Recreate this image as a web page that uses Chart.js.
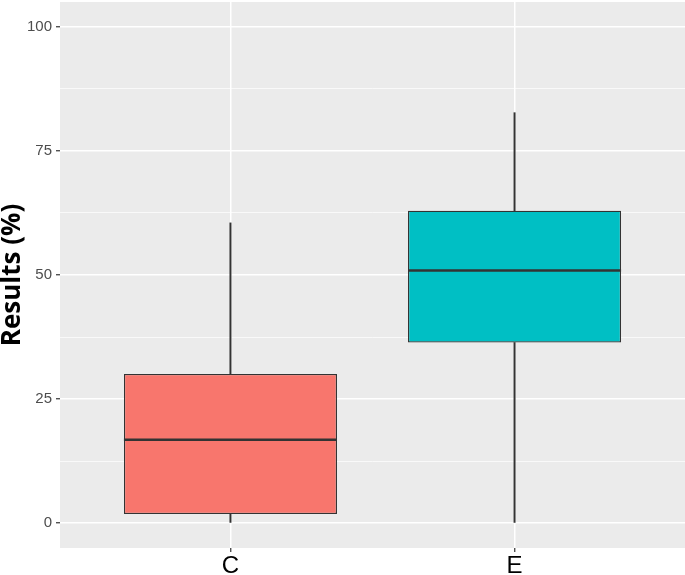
<!DOCTYPE html>
<html>
<head>
<meta charset="utf-8">
<script src="https://cdn.jsdelivr.net/npm/chart.js@4"></script>
<style>
  body { margin: 0; background: #fff; }
  #wrap { width: 685px; height: 575px; }
</style>
</head>
<body>
<div id="wrap"><canvas id="chart" width="685" height="575"></canvas></div>
<script>
// boxplot summaries
const groups = ['C', 'E'];
const whiskerLow = [0, 0];
const boxLow = [1.85, 36.4];
const medians = [16.8, 50.9];
const boxHigh = [30.05, 62.95];
const whiskerHigh = [60.5, 82.7];
const yTicks = [0, 12.5, 25, 37.5, 50, 62.5, 75, 87.5, 100];

const ink = '#333333';
const fills = ['#F8766D', '#00BFC4'];

const pairs = (lo, hi) => groups.map((g, i) => ({ x: i + 1, y: [lo[i], hi[i]] }));

// grey panel like ggplot
const panelBg = {
  id: 'panelBg',
  beforeDraw(chart) {
    const { ctx, chartArea: a } = chart;
    ctx.save();
    ctx.fillStyle = '#EBEBEB';
    ctx.fillRect(a.left, a.top, a.right - a.left, a.bottom - a.top);
    ctx.restore();
  }
};

// thick median line across each box
const medianLines = {
  id: 'medianLines',
  afterDatasetsDraw(chart) {
    const { ctx, scales: { y } } = chart;
    const meta = chart.getDatasetMeta(0);
    ctx.save();
    ctx.strokeStyle = ink;
    ctx.lineWidth = 2.6;
    meta.data.forEach((bar, i) => {
      const { x, width } = bar.getProps(['x', 'width'], true);
      const py = y.getPixelForValue(medians[i]);
      ctx.beginPath();
      ctx.moveTo(x - width / 2, py);
      ctx.lineTo(x + width / 2, py);
      ctx.stroke();
    });
    ctx.restore();
  }
};

const isMajor = v => v % 25 === 0;

new Chart(document.getElementById('chart'), {
  type: 'bar',
  data: {
    datasets: [
      {
        label: 'box',
        data: pairs(boxLow, boxHigh),
        backgroundColor: fills,
        borderColor: ink,
        borderWidth: 1.3,
        borderSkipped: false,
        grouped: false,
        barPercentage: 0.75,
        categoryPercentage: 1
      },
      {
        label: 'upper',
        data: pairs(boxHigh, whiskerHigh),
        backgroundColor: ink,
        borderWidth: 0,
        grouped: false,
        barThickness: 1.3
      },
      {
        label: 'lower',
        data: pairs(whiskerLow, boxLow),
        backgroundColor: ink,
        borderWidth: 0,
        grouped: false,
        barThickness: 1.3
      }
    ]
  },
  options: {
    responsive: false,
    animation: false,
    devicePixelRatio: 1,
    layout: { padding: { top: 2, right: 0, bottom: 0, left: 0 } },
    plugins: {
      legend: { display: false },
      tooltip: { enabled: false }
    },
    scales: {
      x: {
        type: 'linear',
        min: 0.4,
        max: 2.6,
        offset: false,
        afterBuildTicks: s => { s.ticks = groups.map((g, i) => ({ value: i + 1 })); },
        afterFit: s => { s.height = 27; s.paddingLeft = 0; s.paddingRight = 0; },
        grid: {
          offset: false,
          color: '#FFFFFF',
          lineWidth: 1.5,
          tickColor: ink,
          tickLength: 4,
          tickWidth: 1.2
        },
        border: { display: false },
        ticks: {
          color: '#000000',
          font: { family: 'Liberation Sans', size: 24 },
          padding: 0,
          autoSkip: false,
          maxRotation: 0,
          callback: v => groups[v - 1] ?? ''
        }
      },
      y: {
        min: -5,
        max: 105,
        afterBuildTicks: s => { s.ticks = yTicks.map(v => ({ value: v })); },
        afterFit: s => { s.width = 60; s.paddingTop = 0; s.paddingBottom = 0; },
        grid: {
          color: '#FFFFFF',
          lineWidth: c => (c.tick && isMajor(c.tick.value) ? 1.5 : 0.7),
          tickColor: c => (c.tick && isMajor(c.tick.value) ? ink : 'rgba(0,0,0,0)'),
          tickLength: 4,
          tickWidth: 1.2
        },
        border: { display: false },
        ticks: {
          color: '#4D4D4D',
          font: { family: 'Liberation Sans', size: 15 },
          padding: 4,
          autoSkip: false,
          callback: v => (isMajor(v) ? String(v) : '')
        },
        title: {
          display: true,
          text: 'Results (%)',
          color: '#000000',
          font: { family: 'Open Sans', weight: 'bold', size: 26, lineHeight: 1 },
          padding: 0
        }
      }
    }
  },
  plugins: [panelBg, medianLines]
});
</script>
</body>
</html>
